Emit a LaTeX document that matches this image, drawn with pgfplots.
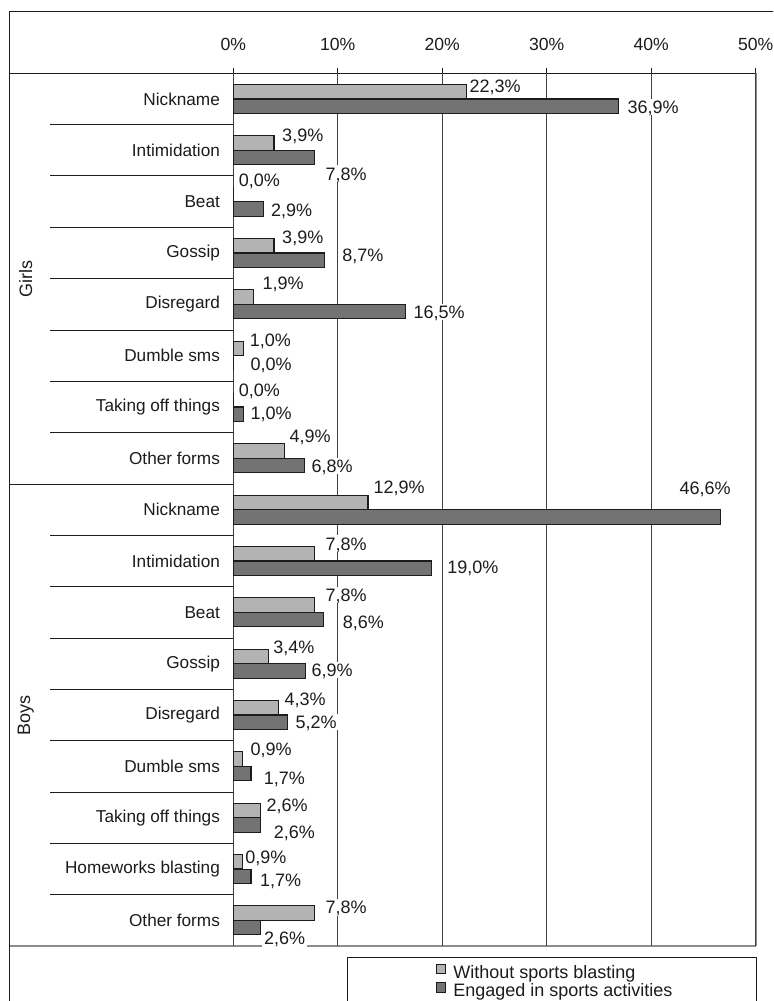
\documentclass[border=0pt]{standalone}
\usepackage{fontspec}
\setmainfont{Liberation Sans}
\usepackage{pgfplots}
\pgfplotsset{compat=1.18}
\usepackage{pgfplotstable}

\definecolor{barlight}{HTML}{B3B3B3}
\definecolor{bardark}{HTML}{737373}
\definecolor{ink}{HTML}{1C1C1C}
\definecolor{rule}{HTML}{8C8C8C}

% row = position from the top (0-7 girls, 8-16 boys), value = share in %,
% dx/dy = nudge of the value label (px at 0.5pt/px, dy positive downwards)
\pgfplotstableread{
row value dx dy
0  22.3  2.7  -5.4
1  3.9   7.6  -7.7
2  0.0   5.0  -14.0
3  3.9   7.6  -8.5
4  1.9   8.8  -13.8
5  1.0   5.6  -8.0
6  0.0   5.0  -9.5
7  4.9   4.5  -15.0
8  12.9  4.9  -15.5
9  7.8   10.2 -10.2
10 7.8   10.2 -9.9
11 3.4   3.9  -9.5
12 4.3   5.8  -8.6
13 0.9   7.3  -10.6
14 2.6   5.5  -5.3
15 0.9   2.1  -4.9
16 7.8   10.3 -5.7
}\withoutsports

\pgfplotstableread{
row value dx dy
0  36.9  8.2   1.0
1  7.8   10.2  16.0
2  2.9   7.0   1.3
3  8.7   17.5  -5.0
4  16.5  7.3   0.3
5  0.0   16.7  0.6
6  1.0   6.3   -1.4
7  6.8   6.6   0.3
8  46.6  -41.2 -28.8
9  19.0  14.9  -1.4
10 8.6   19.1  2.2
11 6.9   5.6   -0.8
12 5.2   7.4   -0.5
13 1.7   12.2  3.8
14 2.6   12.9  6.8
15 1.7   8.5   3.8
16 2.6   3.0   10.7
}\engagedsports

\pgfplotsset{
  sharebars/.style={
    xbar, bar width=7.2pt, bar shift=0pt,
    draw=ink, line width=0.6pt,
    point meta=x,
    visualization depends on={\thisrow{dx} \as \ldx},
    visualization depends on={\thisrow{dy} \as \ldy},
    nodes near coords={\pgfmathprintnumber[fixed,fixed zerofill,precision=1,use comma]{\pgfplotspointmeta}\%},
    every node near coord/.append style={
      anchor=west, font=\fontsize{9}{10.8}\selectfont, text=ink,
      fill=white, inner sep=0.8pt, text height=6.6pt, text depth=0pt,
      xshift={(\ldx)*0.5pt-0.8pt}, yshift={(\ldy)*(-0.5pt)}},
  },
}

\begin{document}
\begin{tikzpicture}[font=\fontsize{9}{10.8}\selectfont]
\useasboundingbox (0,0) rectangle (386.5pt,-500.5pt);
\clip (0,0) rectangle (386.5pt,-500.5pt);
\fill[white] (0,0) rectangle (386.5pt,-500.5pt);

% table frame, row rules, group names and legend box (1 unit = 1 px)
\begin{scope}[x=0.5pt, y=-0.5pt]
  \draw[ink, line width=0.5pt] (9.5,11) rectangle (830,1060);
  \draw[ink, line width=0.5pt] (9.5,73.3) -- (755.7,73.3);
  \draw[ink, line width=0.5pt] (9.5,484.1) -- (233.3,484.1);
  \foreach \k in {1,...,7,9,10,...,16}
    \draw[ink, line width=0.5pt] (50,{73.3+51.34*\k}) -- (233.3,{73.3+51.34*\k});
  \draw[ink, line width=0.5pt] (233.3,73.3) -- (233.3,946);
  \draw[rule, line width=0.9pt] (755.7,73.3) -- (755.7,946);
  \draw[rule, line width=0.9pt] (9.5,946) -- (755.7,946);
  \node[rotate=90, text=ink] at (25.7,278.7) {Girls};
  \node[rotate=90, text=ink] at (25.7,715) {Boys};
  \draw[ink, line width=0.5pt] (347.3,957.7) rectangle (756.7,1040);
\end{scope}

\begin{axis}[
  at={(116.65pt,-36.65pt)}, anchor=north west,
  scale only axis, width=261.2pt, height=436.35pt,
  xmin=0, xmax=50, ymin=-0.5, ymax=16.5, y dir=reverse,
  axis line style={draw=none},
  clip=false,
  /pgf/number format/assume math mode=true,
  xtick={0,10,...,50},
  xticklabel={\pgfmathprintnumber{\tick}\%},
  xtick pos=right, xticklabel pos=right,
  tick align=outside, major tick length=2.5pt,
  xtick style={draw=ink, line width=0.5pt},
  xticklabel style={anchor=south, inner sep=0pt, yshift=8.8pt,
    font=\fontsize{8.8}{10.5}\selectfont, text=ink},
  ytick={0,...,16},
  yticklabels={Nickname, Intimidation, Beat, Gossip, Disregard, Dumble sms,
    Taking off things, Other forms, Nickname, Intimidation, Beat, Gossip,
    Disregard, Dumble sms, Taking off things, Homeworks blasting, Other forms},
  ytick style={draw=none},
  yticklabel style={anchor=east, inner sep=0pt, xshift=-4pt,
    font=\fontsize{8.6}{10.3}\selectfont, text=ink},
  xmajorgrids, grid style={draw=black!75, line width=0.5pt},
  legend style={at={(0.3874,-0.0199)}, anchor=north west,
    draw=none, fill=none, inner sep=0pt, row sep=0pt,
    nodes={inner sep=0pt, text height=6.5pt, text depth=2pt,
      font=\fontsize{9}{10.8}\selectfont, text=ink},
    /tikz/every odd column/.style={column sep=3.5pt}},
  legend cell align=left,
]
\addlegendimage{legend image code/.code={
  \draw[fill=barlight, draw=ink, line width=0.45pt] (0pt,0pt) rectangle (4.7pt,4.7pt);}}
\addlegendentry{Without sports blasting}
\addlegendimage{legend image code/.code={
  \draw[fill=bardark, draw=ink, line width=0.45pt] (0pt,0pt) rectangle (4.7pt,4.7pt);}}
\addlegendentry{Engaged in sports activities}

\addplot[sharebars, fill=barlight, forget plot]
  table[x=value, y expr=\thisrow{row}-0.142] {\withoutsports};
\addplot[sharebars, fill=bardark, forget plot]
  table[x=value, y expr=\thisrow{row}+0.142] {\engagedsports};
\end{axis}
\end{tikzpicture}
\end{document}
